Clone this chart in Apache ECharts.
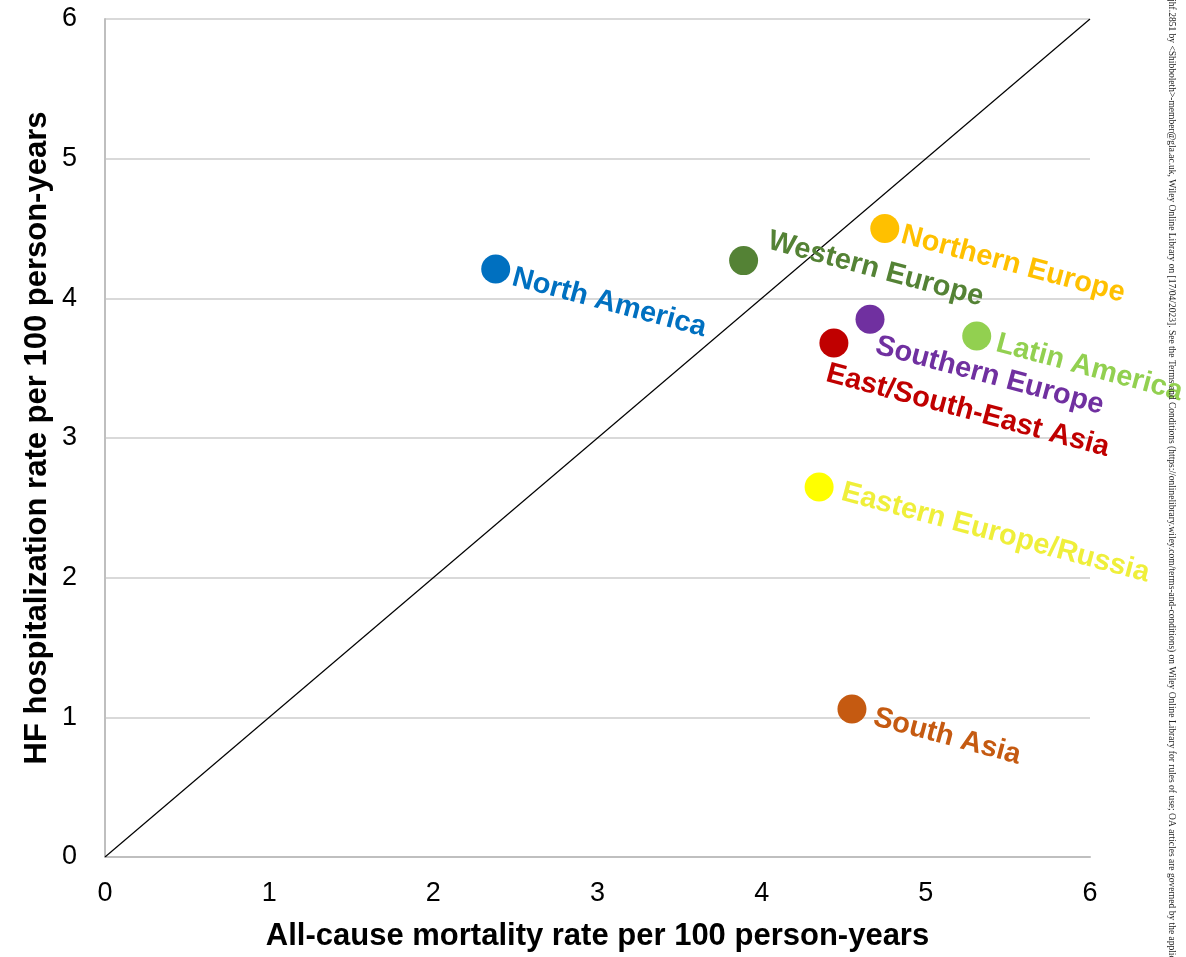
<!DOCTYPE html>
<html>
<head>
<meta charset="utf-8">
<title>HF hospitalization vs all-cause mortality by region</title>
<script src="https://cdn.jsdelivr.net/npm/echarts@6/dist/echarts.min.js"></script>
<style>
  html, body { margin: 0; padding: 0; background: #ffffff; }
  #chart { width: 1186px; height: 957px; }
</style>
</head>
<body>
<div id="chart"></div>
<script>
// Regions and their event rates (per 100 person-years)
const regions = [
  'North America',
  'Western Europe',
  'Northern Europe',
  'Southern Europe',
  'East/South-East Asia',
  'Latin America',
  'Eastern Europe/Russia',
  'South Asia'
];
const mortalityRate = [2.38, 3.89, 4.75, 4.66, 4.44, 5.31, 4.35, 4.55];
const hfHospRate    = [4.21, 4.27, 4.50, 3.85, 3.68, 3.73, 2.65, 1.06];

// Line of identity
const identityLine = [[0, 0], [6, 6]];

// Axis ticks
const axisMin = 0;
const axisMax = 6;
const tickStep = 1;

// Styling per region
const markerColor = {
  'North America': '#0070C0',
  'Western Europe': '#548235',
  'Northern Europe': '#FFC000',
  'Southern Europe': '#7030A0',
  'East/South-East Asia': '#C00000',
  'Latin America': '#92D050',
  'Eastern Europe/Russia': '#FFFF00',
  'South Asia': '#C55A11'
};
const labelColor = Object.assign({}, markerColor, { 'Eastern Europe/Russia': '#EFEF3A' });
// Label anchor shift from the marker centre, in pixels [dx, dy]
const labelShift = {
  'North America': [17, 8],
  'Western Europe': [25, -20],
  'Northern Europe': [17, 6],
  'Southern Europe': [6, 26],
  'East/South-East Asia': [-7, 30],
  'Latin America': [20, 7],
  'Eastern Europe/Russia': [23, 5],
  'South Asia': [22, 8]
};

const SYMBOL = 29;
const FONT = '"Liberation Sans", Arial, Helvetica, sans-serif';

const points = regions.map((name, i) => {
  const s = labelShift[name];
  return {
    name: name,
    value: [mortalityRate[i], hfHospRate[i]],
    itemStyle: { color: markerColor[name], opacity: 1 },
    label: {
      show: true,
      formatter: name,
      position: [SYMBOL / 2 + s[0], SYMBOL / 2 + s[1]],
      align: 'left',
      verticalAlign: 'middle',
      rotate: -15,
      color: labelColor[name],
      fontFamily: FONT,
      fontWeight: 'bold',
      fontSize: 29
    }
  };
});

const chart = echarts.init(document.getElementById('chart'), null, { renderer: 'canvas' });

chart.setOption({
  backgroundColor: '#ffffff',
  animation: false,
  grid: { left: 105, right: 96, top: 19, bottom: 98, containLabel: false },
  xAxis: {
    type: 'value',
    min: axisMin, max: axisMax, interval: tickStep,
    name: 'All-cause mortality rate per 100 person-years',
    nameLocation: 'middle',
    nameGap: 64,
    nameMoveOverlap: false,
    nameTextStyle: { fontFamily: FONT, fontWeight: 'bold', fontSize: 31, color: '#000' },
    axisLine: { show: true, lineStyle: { color: '#BFBFBF', width: 2 } },
    axisTick: { show: false },
    axisLabel: { fontFamily: FONT, fontSize: 27, color: '#000', margin: 23 },
    splitLine: { show: false }
  },
  yAxis: {
    type: 'value',
    min: axisMin, max: axisMax, interval: tickStep,
    name: 'HF hospitalization rate per 100 person-years',
    nameLocation: 'middle',
    nameGap: 52,
    nameMoveOverlap: false,
    nameRotate: 90,
    nameTextStyle: { fontFamily: FONT, fontWeight: 'bold', fontSize: 31, color: '#000' },
    axisLine: { show: true, lineStyle: { color: '#BFBFBF', width: 2 } },
    axisTick: { show: false },
    axisLabel: { fontFamily: FONT, fontSize: 27, color: '#000', margin: 28 },
    splitLine: { show: true, lineStyle: { color: '#D9D9D9', width: 2 } }
  },
  series: [
    {
      type: 'line',
      data: identityLine,
      symbol: 'none',
      silent: true,
      lineStyle: { color: '#000000', width: 1.2 },
      z: 2
    },
    {
      type: 'scatter',
      symbol: 'circle',
      symbolSize: SYMBOL,
      data: points,
      z: 3
    }
  ],
  graphic: [
    {
      type: 'text',
      x: 1176,
      y: -5,
      rotation: -Math.PI / 2,
      style: {
        text: 'ejhf.2851 by <Shibboleth>-member@gla.ac.uk, Wiley Online Library on [17/04/2023]. See the Terms and Conditions (https://onlinelibrary.wiley.com/terms-and-conditions) on Wiley Online Library for rules of use; OA articles are governed by the applicable Creative Commons License',
        fontFamily: '"Liberation Serif", "Times New Roman", serif',
        fontSize: 9.5,
        fill: '#222',
        align: 'left',
        verticalAlign: 'top'
      },
      z: 10
    }
  ]
});
</script>
</body>
</html>
